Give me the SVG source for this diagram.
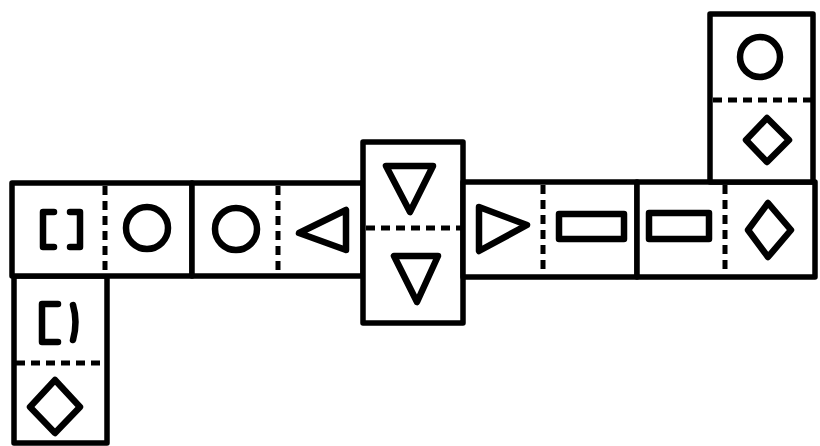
<svg xmlns="http://www.w3.org/2000/svg" width="820" height="446" viewBox="0 0 820 446">
<style>
.box{fill:#fff;stroke:#000;stroke-width:5.5;stroke-linejoin:round}
.dash{fill:none;stroke:#000;stroke-width:5;stroke-dasharray:9 6}
.sh{fill:none;stroke:#000;stroke-width:6.5;stroke-linejoin:round;stroke-linecap:round}
</style>
<rect width="820" height="446" fill="#fff"/>
<g id="domino-bottom-left">
<rect class="box" x="14" y="276" width="93" height="167"/>
<line class="dash" x1="16" y1="363" x2="105" y2="363"/>
<path class="sh" d="M58,304 H42 V342 H58 M73,305 Q78,322 73,340"/>
<path class="sh" d="M55,380 L80,407 L55,433 L30,407 Z"/>
</g>
<g id="domino-1">
<rect class="box" x="12" y="183" width="180" height="93"/>
<line class="dash" x1="105" y1="186" x2="105" y2="274"/>
<path class="sh" d="M54,212 H43 V247 H54 M70,212 H80 V247 H70"/>
<circle class="sh" cx="147" cy="228" r="21"/>
</g>
<g id="domino-2">
<rect class="box" x="192" y="183" width="171" height="93"/>
<line class="dash" x1="278" y1="186" x2="278" y2="274"/>
<circle class="sh" cx="236" cy="229" r="21"/>
<path class="sh" d="M299,233 L346,210 L346,250 Z"/>
</g>
<g id="domino-3">
<rect class="box" x="363" y="142" width="100" height="181"/>
<line class="dash" x1="366" y1="228" x2="461" y2="228"/>
<path class="sh" d="M386,166 L433,166 L410,212 Z"/>
<path class="sh" d="M394,256 L438,256 L417,302 Z"/>
</g>
<g id="domino-4">
<rect class="box" x="463" y="182" width="174" height="95"/>
<line class="dash" x1="543" y1="185" x2="543" y2="275"/>
<path class="sh" d="M479,207 L527,225 L479,251 Z"/>
<rect class="sh" x="559" y="214" width="65" height="25"/>
</g>
<g id="domino-5">
<rect class="box" x="637" y="182" width="178" height="95"/>
<line class="dash" x1="725" y1="185" x2="725" y2="275"/>
<rect class="sh" x="649" y="213" width="60" height="26"/>
<path class="sh" d="M768,203 L791,230 L768,257 L748,230 Z"/>
</g>
<g id="domino-top-right">
<rect class="box" x="710" y="14" width="103" height="168"/>
<line class="dash" x1="713" y1="100" x2="811" y2="100"/>
<circle class="sh" cx="760" cy="57" r="20"/>
<path class="sh" d="M767,118 L789,140 L767,162 L746,140 Z"/>
</g>
</svg>
